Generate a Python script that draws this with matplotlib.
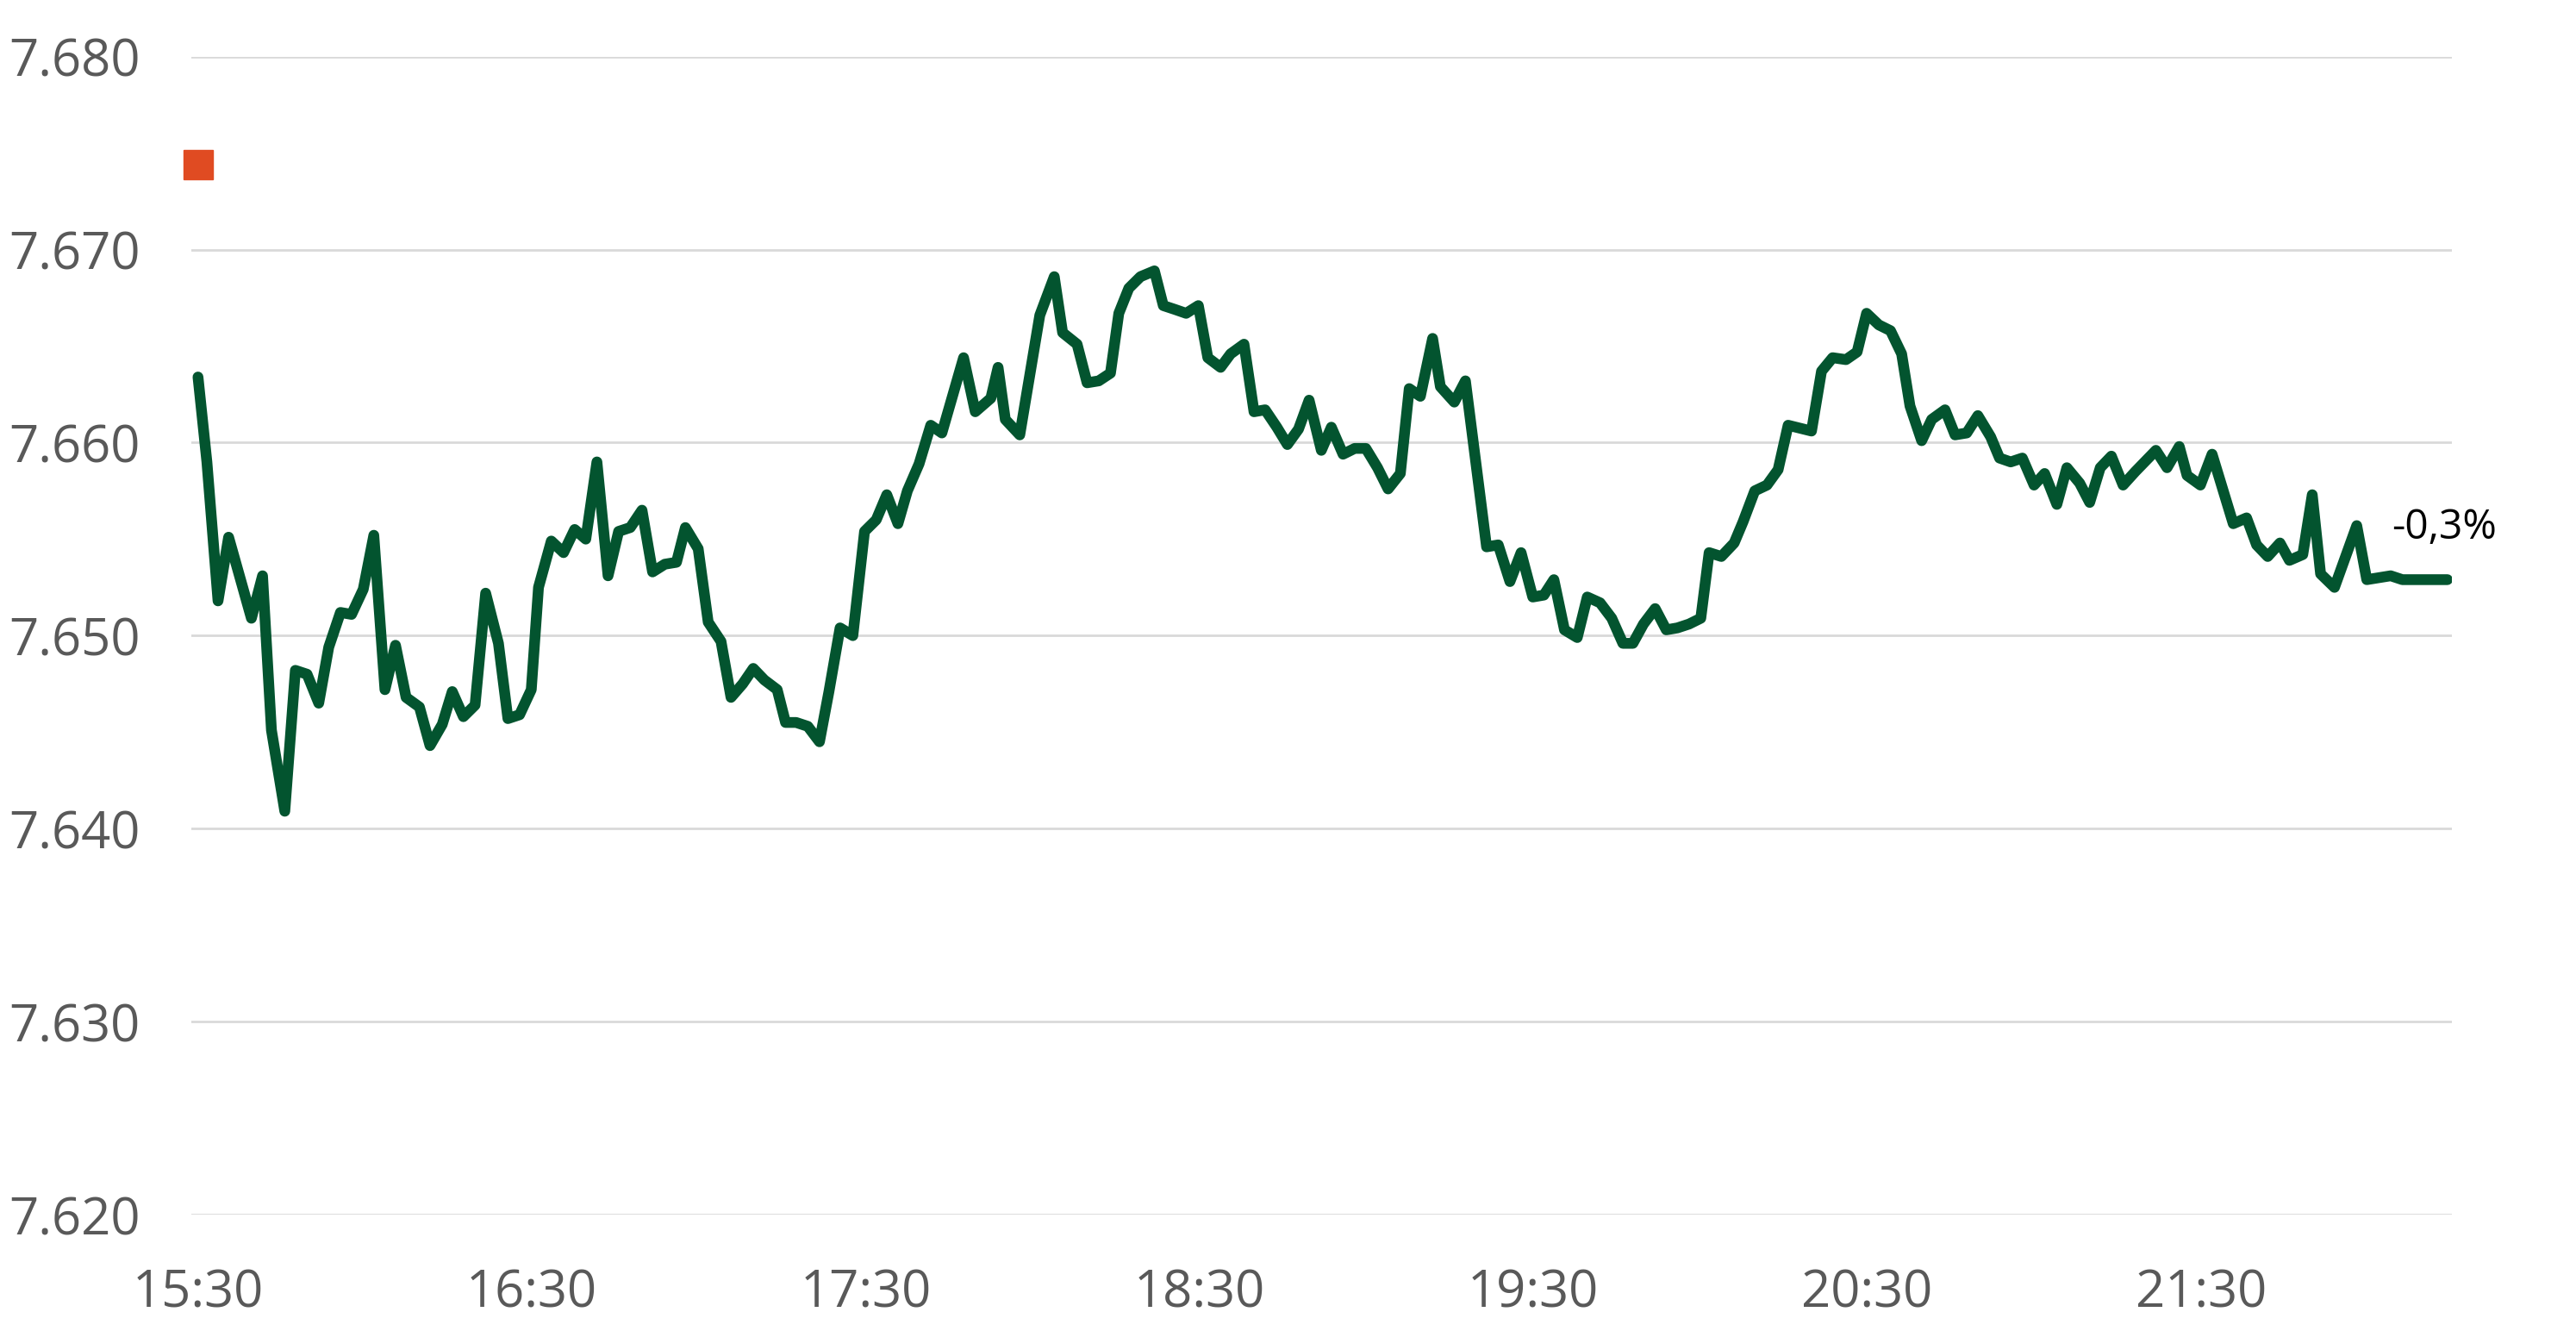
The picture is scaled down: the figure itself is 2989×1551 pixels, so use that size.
import matplotlib
matplotlib.use("Agg")
import matplotlib.pyplot as plt

# minutes after 15:30 and the quote
minutos = [
    0.0, 1.6, 3.6, 5.5, 9.6, 11.6, 13.2, 15.6, 17.5, 19.6, 21.7, 23.5, 25.6, 27.6,
    29.7, 31.6, 33.6, 35.5, 37.4, 39.8, 41.7, 43.9, 45.7, 47.7, 49.8, 51.7, 54.0,
    55.7, 57.8, 59.9, 61.2, 63.5, 65.7, 67.7, 69.7, 71.7, 73.7, 75.6, 77.7, 79.8,
    81.7, 83.9, 86.0, 87.6, 89.9, 91.7, 94.0, 95.8, 97.9, 99.8, 101.8, 104.1, 105.6,
    107.5, 109.6, 111.7, 113.4, 115.4, 117.7, 119.8, 121.9, 123.8, 125.8, 127.5,
    129.6, 131.7, 133.7, 137.6, 139.7, 142.5, 143.8, 145.1, 147.7, 151.3, 153.9,
    155.4, 158.0, 159.8, 161.9, 164.0, 165.5, 167.3, 169.4, 171.9, 173.5, 175.6,
    177.6, 179.8, 181.5, 183.8, 185.6, 188.0, 189.8, 191.8, 193.9, 195.8, 197.8,
    199.7, 201.9, 203.7, 205.8, 207.9, 209.9, 212.0, 213.9, 216.1, 217.7, 219.7,
    221.9, 223.3, 225.8, 227.8, 231.6, 233.7, 235.8, 237.8, 239.9, 241.9, 243.7,
    245.6, 247.9, 249.7, 252.0, 254.1, 256.1, 257.9, 259.8, 261.9, 263.9, 265.9,
    268.0, 270.1, 271.6, 273.8, 276.1, 277.7, 279.8, 282.0, 284.0, 285.8, 290.0,
    291.8, 293.8, 296.2, 298.2, 299.9, 302.1, 304.2, 306.2, 307.7, 309.8, 311.6,
    314.0, 315.8, 317.9, 319.9, 322.2, 323.8, 325.8, 327.9, 330.0, 331.9, 334.1,
    335.9, 338.2, 340.0, 341.9, 343.9, 346.0, 348.2, 351.9, 353.9, 356.1, 357.5,
    359.9, 362.0, 365.8, 368.2, 370.0, 372.0, 374.2, 375.9, 378.3, 380.0, 381.5,
    384.0, 388.0, 389.8, 394.1, 396.2, 404.3,
]
cotacao = [
    7.6634, 7.6590, 7.6518, 7.6551, 7.6509, 7.6531, 7.6451, 7.6409, 7.6482, 7.6480,
    7.6465, 7.6494, 7.6512, 7.6511, 7.6524, 7.6552, 7.6472, 7.6495, 7.6468, 7.6463,
    7.6443, 7.6454, 7.6471, 7.6458, 7.6464, 7.6522, 7.6496, 7.6457, 7.6459, 7.6472,
    7.6525, 7.6549, 7.6543, 7.6555, 7.6550, 7.6590, 7.6531, 7.6554, 7.6556, 7.6565,
    7.6533, 7.6537, 7.6538, 7.6556, 7.6545, 7.6507, 7.6497, 7.6468, 7.6475, 7.6483,
    7.6477, 7.6472, 7.6455, 7.6455, 7.6453, 7.6445, 7.6471, 7.6504, 7.6500, 7.6554,
    7.6560, 7.6573, 7.6558, 7.6575, 7.6589, 7.6609, 7.6605, 7.6644, 7.6616, 7.6623,
    7.6639, 7.6612, 7.6604, 7.6666, 7.6686, 7.6657, 7.6651, 7.6631, 7.6632, 7.6636,
    7.6667, 7.6680, 7.6686, 7.6689, 7.6671, 7.6669, 7.6667, 7.6671, 7.6644, 7.6639,
    7.6646, 7.6651, 7.6616, 7.6617, 7.6608, 7.6599, 7.6607, 7.6622, 7.6596, 7.6608,
    7.6594, 7.6597, 7.6597, 7.6587, 7.6576, 7.6584, 7.6628, 7.6624, 7.6654, 7.6629,
    7.6621, 7.6632, 7.6546, 7.6547, 7.6528, 7.6543, 7.6520, 7.6521, 7.6529, 7.6503,
    7.6499, 7.6520, 7.6517, 7.6509, 7.6496, 7.6496, 7.6506, 7.6514, 7.6503, 7.6504,
    7.6506, 7.6509, 7.6543, 7.6541, 7.6548, 7.6559, 7.6575, 7.6578, 7.6586, 7.6609,
    7.6606, 7.6637, 7.6644, 7.6643, 7.6647, 7.6667, 7.6661, 7.6658, 7.6646, 7.6619,
    7.6601, 7.6612, 7.6617, 7.6604, 7.6605, 7.6614, 7.6603, 7.6592, 7.6590, 7.6592,
    7.6578, 7.6584, 7.6568, 7.6587, 7.6579, 7.6569, 7.6587, 7.6593, 7.6578, 7.6585,
    7.6596, 7.6587, 7.6598, 7.6583, 7.6578, 7.6594, 7.6558, 7.6561, 7.6547, 7.6541,
    7.6548, 7.6539, 7.6542, 7.6573, 7.6532, 7.6525, 7.6557, 7.6529, 7.6531, 7.6529,
    7.6529,
]

fechamento_anterior = 7.6744
variacao = "-0,3%"

horas_ticks = [0, 60, 120, 180, 240, 300, 360]
horas_labels = ["15:30", "16:30", "17:30", "18:30", "19:30", "20:30", "21:30"]
valores_y = [7.620, 7.630, 7.640, 7.650, 7.660, 7.670, 7.680]
labels_y = ["7.620", "7.630", "7.640", "7.650", "7.660", "7.670", "7.680"]

plt.rcParams['font.family'] = ['Open Sans', 'DejaVu Sans']

fig = plt.figure(figsize=(29.89, 15.51), dpi=100)
ax = fig.add_axes([0.07427, 0.09155, 0.87755, 0.86609])

for v in valores_y:
    ax.axhline(v, color='#d9d9d9', linewidth=2, zorder=1)

ax.plot(minutos, cotacao, color='#03542f', linewidth=9,
        solid_capstyle='round', solid_joinstyle='round', zorder=3)

# previous close marker
ax.plot([0], [fechamento_anterior], marker='s', markersize=24.5,
        color='#e04b22', linestyle='none', clip_on=False, zorder=4)

ax.text(394.3, 7.6550, variacao, fontsize=34.5, color='black',
        ha='left', va='baseline')

ax.set_xlim(-1.2, 405.1)
ax.set_ylim(7.620, 7.680)
ax.set_xticks(horas_ticks)
ax.set_xticklabels(horas_labels)
ax.set_yticks(valores_y)
ax.set_yticklabels(labels_y)
ax.tick_params(axis='both', length=0, labelsize=43, colors='#595959')
ax.tick_params(axis='y', pad=43)
ax.tick_params(axis='x', pad=44)

for lado in ['top', 'right', 'left', 'bottom']:
    ax.spines[lado].set_visible(False)

fig.savefig('out.png', dpi=100, facecolor='white')
